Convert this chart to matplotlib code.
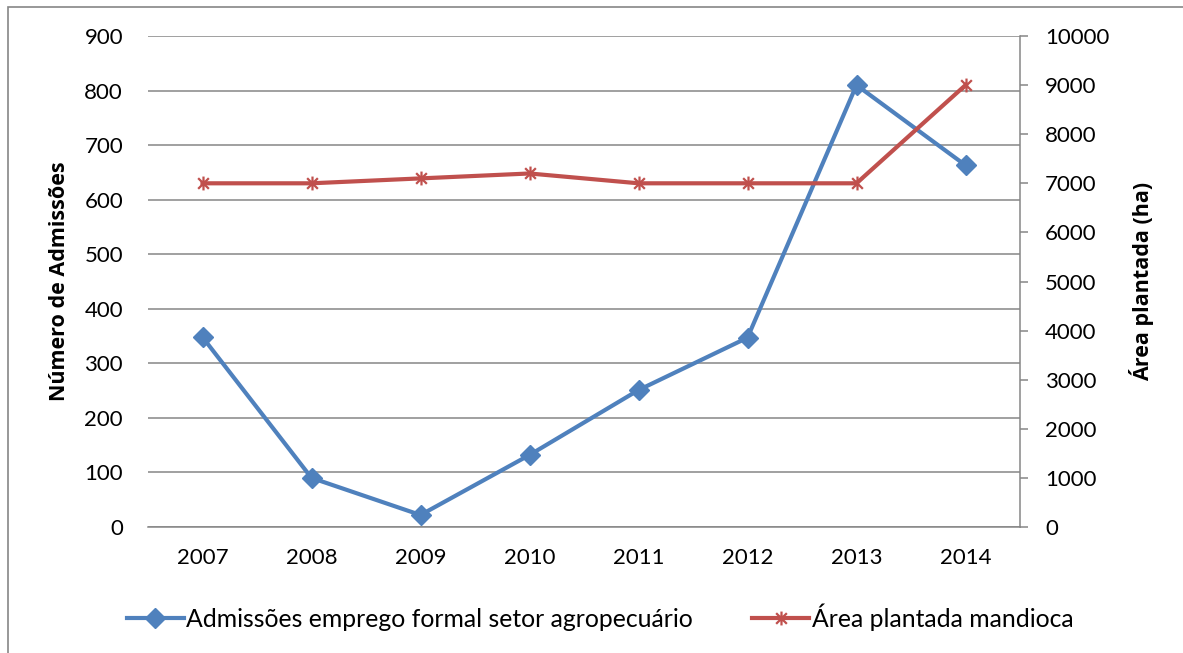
import matplotlib.pyplot as plt
import matplotlib.patches as mpatches
from matplotlib.path import Path
from matplotlib.lines import Line2D

plt.rcParams['font.family'] = ['Lato', 'DejaVu Sans']

years = ["2007", "2008", "2009", "2010", "2011", "2012", "2013", "2014"]
admissoes = [348, 90, 22, 132, 251, 347, 810, 663]
area_plantada = [7000, 7000, 7100, 7200, 7000, 7000, 7000, 9000]

label_adm = "Admissões emprego formal setor agropecuário"
label_area = "Área plantada mandioca"

BLUE = "#4F81BD"
RED = "#C0504D"
GRID = "#868686"

# excel style star marker: an x with a vertical bar
star = Path([(-1, -1), (1, 1), (-1, 1), (1, -1), (0, -1.3), (0, 1.3)],
            [Path.MOVETO, Path.LINETO, Path.MOVETO, Path.LINETO, Path.MOVETO, Path.LINETO])

W, H = 1183, 653
fig = plt.figure(figsize=(W / 100, H / 100), dpi=100)
ax = fig.add_axes([148 / W, 1 - 527 / H, 872 / W, 491 / H])
ax2 = ax.twinx()

xs = list(range(len(years)))
ax.plot(xs, admissoes, '-D', color=BLUE, lw=3, markersize=10, zorder=3)
ax2.plot(xs, area_plantada, '-', color=RED, lw=3, marker=star, markersize=10,
         markeredgewidth=1.6, zorder=3)

ax.set_xlim(-0.5, len(years) - 0.5)
ax.set_ylim(0, 900)
ax.set_yticks(range(0, 901, 100))
ax2.set_ylim(0, 10000)
ax2.set_yticks(range(0, 10001, 1000))
ax.set_xticks(xs)
ax.set_xticklabels(years)

ax.grid(axis='y', color=GRID, lw=1.1)
ax.set_axisbelow(True)
for a in (ax, ax2):
    for s in ["top", "left", "right", "bottom"]:
        a.spines[s].set_visible(False)
ax.spines["bottom"].set_visible(True)
ax.spines["bottom"].set_color(GRID)
ax.spines["bottom"].set_linewidth(1.1)
ax2.spines["right"].set_visible(True)
ax2.spines["right"].set_color(GRID)
ax2.spines["right"].set_linewidth(1.1)

ax.tick_params(axis='y', length=0, pad=18, labelsize=16)
ax.tick_params(axis='x', length=0, pad=15, labelsize=16)
ax2.tick_params(axis='y', length=6, width=1.1, color=GRID, pad=12, labelsize=16)

lab_font = dict(family=['Open Sans', 'DejaVu Sans'], fontsize=15.5, fontweight='bold')
ax.set_ylabel("Número de Admissões", labelpad=10, **lab_font)
ax2.set_ylabel("Área plantada (ha)", labelpad=14, **lab_font)

handles = [
    Line2D([], [], color=BLUE, lw=3, marker='D', markersize=10),
    Line2D([], [], color=RED, lw=3, marker=star, markersize=10, markeredgewidth=1.6),
]
fig.legend(handles, [label_adm, label_area], loc='center',
           bbox_to_anchor=(600 / W, 1 - 617 / H), ncol=2, frameon=False,
           fontsize=17.8, handlelength=2.3, handletextpad=0.1, columnspacing=2.4)

border = mpatches.Rectangle((8 / W, -0.5), 2, 1.5 - 7 / H, transform=fig.transFigure,
                            fill=False, edgecolor=GRID, lw=1.2)
fig.patches.append(border)

fig.savefig("out.png", dpi=100)
